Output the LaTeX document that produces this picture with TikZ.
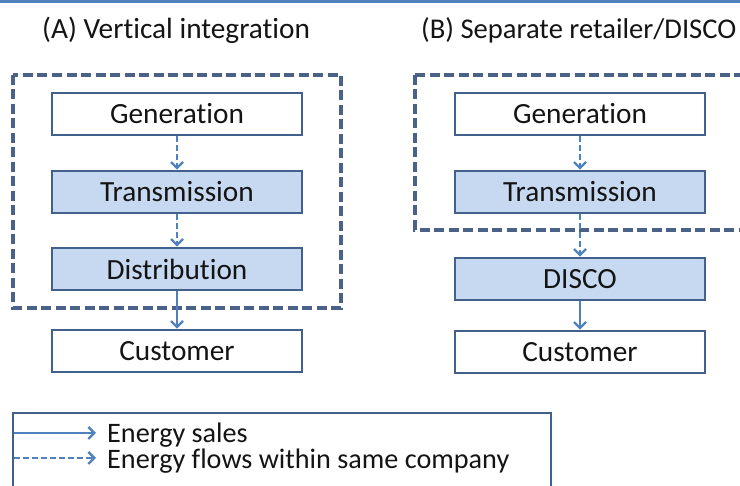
\documentclass[tikz,border=0pt]{standalone}
\usepackage{fontspec}
\setmainfont[Ligatures=NoCommon]{Carlito}
\usetikzlibrary{arrows.meta}
\definecolor{boxedge}{HTML}{41618C}
\definecolor{boxfill}{HTML}{C6D9F1}
\definecolor{outeredge}{HTML}{4A6287}
\definecolor{arrowblue}{HTML}{4F81BD}
\definecolor{txt}{HTML}{141414}
\tikzset{
  stagebox/.style={draw=boxedge, line width=2.6pt, minimum width=250pt, minimum height=42pt, inner sep=0pt, text=txt, font=\fontsize{29.3}{34}\selectfont},
  whitebox/.style={stagebox, fill=white},
  bluebox/.style={stagebox, fill=boxfill},
  company/.style={draw=outeredge, line width=3.2pt, dash pattern=on 10pt off 4.5pt},
  salesarrow/.style={draw=arrowblue, line width=2.6pt, -{Straight Barb[length=6pt,width=12pt,line width=2.4pt]}},
  flowarrow/.style={salesarrow, dash pattern=on 6pt off 3pt},
  label/.style={text=txt, font=\fontsize{29.3}{34}\selectfont, inner sep=0pt},
  legendtext/.style={text=txt, font=\fontsize{28.2}{30}\selectfont, inner sep=0pt},
}
\begin{document}
\begin{tikzpicture}[x=1pt,y=-1pt]
\useasboundingbox (0,0) rectangle (740,486);
\clip (0,0) rectangle (740,486);
\fill[arrowblue] (0,0) rectangle (740,3);
% titles
\node[label, anchor=west] (titleA) at (42,30) {(A) Vertical integration};
\node[label, anchor=west, font=\fontsize{28.6}{34}\selectfont] (titleB) at (421,30) {(B) Separate retailer/DISCO};
% company boxes
\draw[company] (13,75) rectangle (341,308);
\draw[company] (415,75) -- (415,230) -- (770,230);
\draw[company] (415,75) -- (770,75);
% left column
\node[whitebox] (genA) at (177,114) {Generation};
\node[bluebox] (trA) at (177,192) {Transmission};
\node[bluebox] (distA) at (177,269) {Distribution};
\node[whitebox] (custA) at (177,351) {Customer};
\draw[flowarrow] (genA) -- (trA);
\draw[flowarrow] (trA) -- (distA);
\draw[salesarrow] (distA) -- (custA);
% right column
\node[whitebox] (genB) at (580,114) {Generation};
\node[bluebox] (trB) at (580,192) {Transmission};
\node[bluebox] (disco) at (580,279) {DISCO};
\node[whitebox] (custB) at (580,352) {Customer};
\draw[flowarrow] (genB) -- (trB);
\draw[flowarrow] (trB) -- (disco);
\draw[salesarrow] (disco) -- (custB);
% legend
\draw[draw=boxedge, line width=2.6pt] (13,500) -- (13,413) -- (551,413) -- (551,500);
\coordinate (ls1) at (14,433);
\coordinate (le1) at (96,433);
\coordinate (ls2) at (14,458);
\coordinate (le2) at (96,458);
\draw[salesarrow, line width=2.2pt] (ls1) -- (le1);
\draw[flowarrow, line width=2.2pt] (ls2) -- (le2);
\node[legendtext, anchor=west] (lg1) at (107,435) {Energy sales};
\node[legendtext, anchor=west] (lg2) at (107,461) {Energy flows within same company};
\end{tikzpicture}
\end{document}
